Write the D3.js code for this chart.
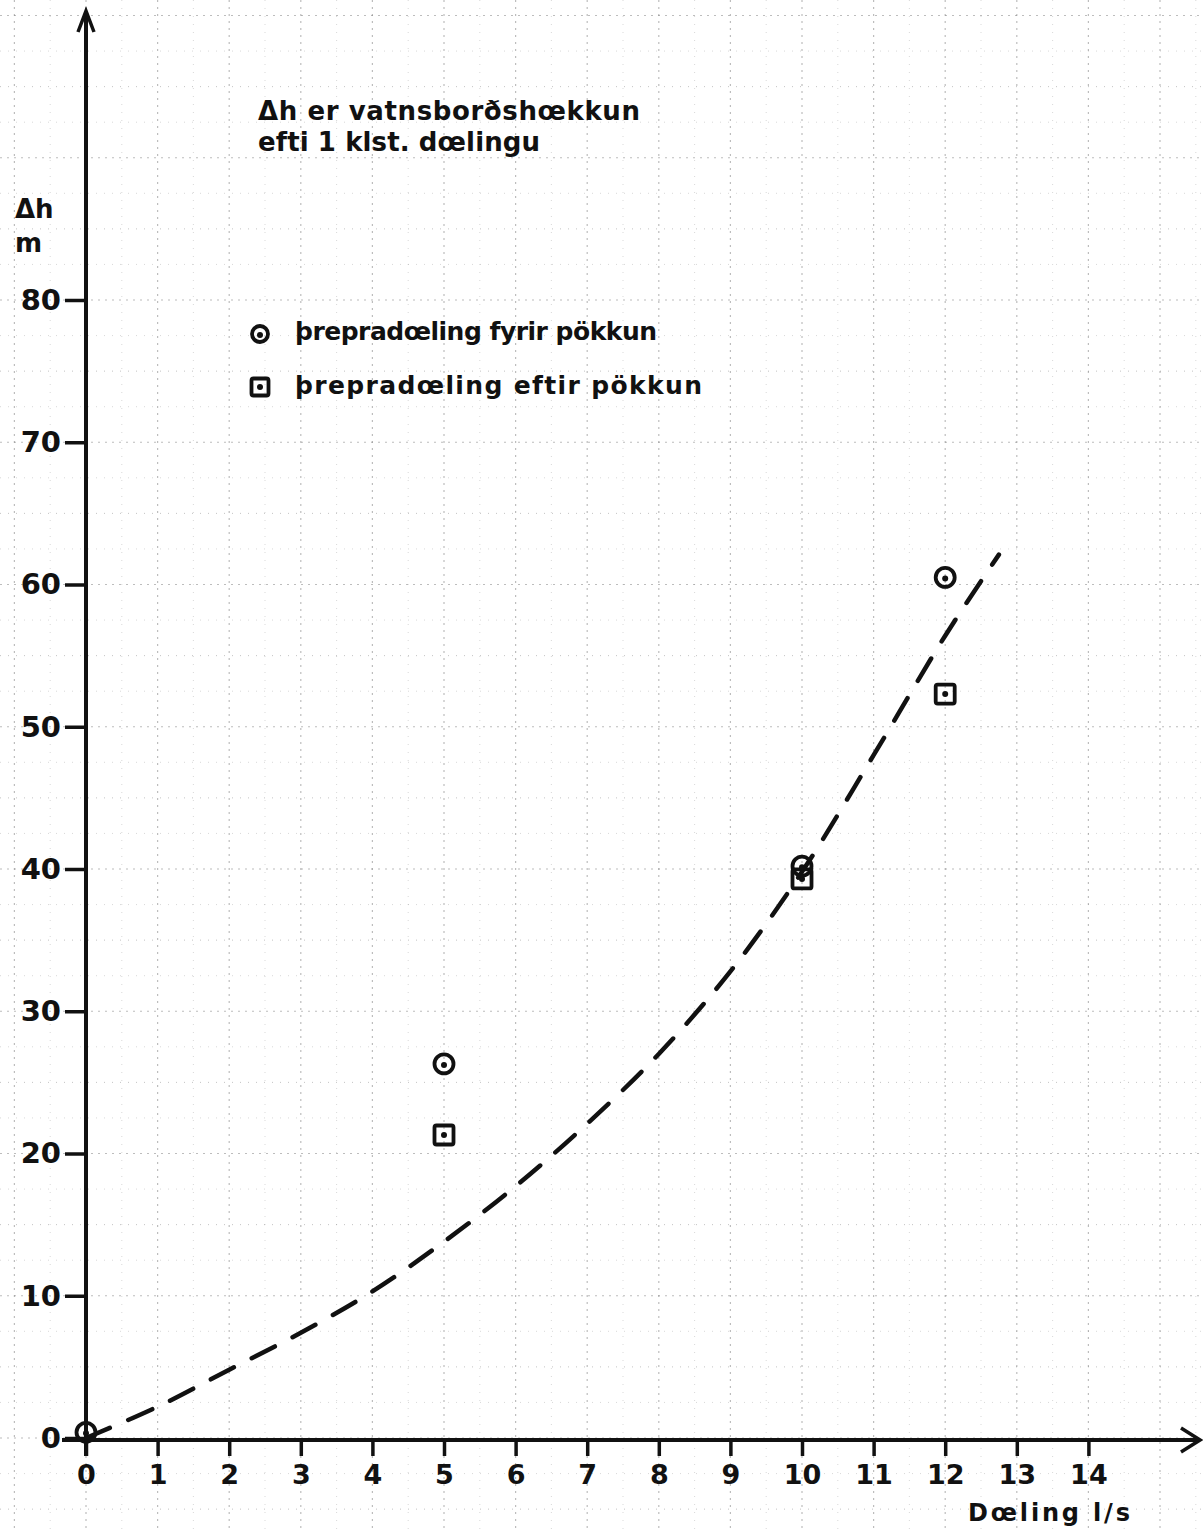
<!DOCTYPE html>
<html>
<head>
<meta charset="utf-8">
<script src="https://cdn.jsdelivr.net/npm/d3@7"></script>
<style>
  body { margin: 0; background: #fff; }
  svg { display: block; }
  text { font-family: "DejaVu Sans", sans-serif; fill: #111; }
</style>
</head>
<body>
<svg id="chart" width="1203" height="1529"></svg>
<script>
// Tick values on both axes
const xTickValues = [0, 1, 2, 3, 4, 5, 6, 7, 8, 9, 10, 11, 12, 13, 14];
const yTickValues = [0, 10, 20, 30, 40, 50, 60, 70, 80];

// Step pumping before packing (circles)
const fyrirQ = [0, 5, 10, 12];
const fyrirDh = [0.4, 26.3, 40.2, 60.5];

// Step pumping after packing (squares)
const eftirQ = [5, 10, 12];
const eftirDh = [21.3, 39.3, 52.3];

// Hand-drawn trend curve (dashed)
const curveQ = [0, 1, 2, 3, 4, 5, 6, 7, 8, 9, 10, 11, 12, 12.75];
const curveDh = [0, 2.2, 4.8, 7.4, 10.3, 13.8, 17.7, 22.1, 27.0, 32.8, 39.8, 48.0, 56.4, 62.1];

// Texts
const titleLines = ["\u0394h er vatnsbor\u00f0sh\u0153kkun", "efti 1 klst. d\u0153lingu"];
const legendLabels = ["\u00fereprad\u0153ling fyrir p\u00f6kkun", "\u00fereprad\u0153ling eftir p\u00f6kkun"];
const yLabelLines = ["\u0394h", "m"];
const xLabel = "D\u0153ling l/s";

const svg = d3.select("#chart");
const ink = "#111";

const x = d3.scaleLinear().domain([0, 15]).range([86, 86 + 15 * 71.6]);
const y = d3.scaleLinear().domain([0, 80]).range([1438, 300]);

// Graph-paper background
const grid = svg.append("g").attr("class", "grid");
grid.selectAll("line.v")
  .data(d3.range(-1, 16.01, 0.5))
  .join("line")
  .attr("x1", d => x(d)).attr("x2", d => x(d))
  .attr("y1", 0).attr("y2", 1529)
  .attr("stroke", "#888")
  .attr("stroke-width", d => Number.isInteger(d) ? 1.2 : 0.9)
  .attr("stroke-dasharray", d => Number.isInteger(d) ? "2,5" : "1,7")
  .attr("opacity", d => Number.isInteger(d) ? 0.55 : 0.35);
grid.selectAll("line.h")
  .data(d3.range(-5, 102.6, 2.5))
  .join("line")
  .attr("y1", d => y(d)).attr("y2", d => y(d))
  .attr("x1", 0).attr("x2", 1203)
  .attr("stroke", "#888")
  .attr("stroke-width", d => d % 10 === 0 ? 1.2 : 0.9)
  .attr("stroke-dasharray", d => d % 10 === 0 ? "2,5" : "1,7")
  .attr("opacity", d => d % 5 === 0 ? 0.55 : 0.35);

// Axes
const yAxis = svg.append("g")
  .attr("transform", `translate(${x(0)},0)`)
  .call(d3.axisLeft(y).tickValues(yTickValues).tickSize(21).tickPadding(4).tickFormat(d3.format("d")));
yAxis.select(".domain").remove();
yAxis.selectAll(".tick line").attr("stroke", ink).attr("stroke-width", 3.5);
yAxis.selectAll(".tick text")
  .attr("fill", ink).style("font-size", "29px").style("font-weight", "bold")
  .style("font-family", "DejaVu Sans, sans-serif");

const xAxis = svg.append("g")
  .attr("transform", `translate(0,${y(0) + 2})`)
  .call(d3.axisBottom(x).tickValues(xTickValues).tickSize(16).tickPadding(9).tickFormat(d3.format("d")));
xAxis.select(".domain").remove();
xAxis.selectAll(".tick line").attr("stroke", ink).attr("stroke-width", 3.5);
xAxis.selectAll(".tick text")
  .attr("fill", ink).style("font-size", "27px").style("font-weight", "bold")
  .style("font-family", "DejaVu Sans, sans-serif");

// Axis lines with arrow heads
svg.append("line")
  .attr("x1", x(0)).attr("x2", x(0)).attr("y1", y(0) + 18).attr("y2", 12)
  .attr("stroke", ink).attr("stroke-width", 4);
svg.append("path")
  .attr("d", `M${x(0) - 8},32 L${x(0)},11 L${x(0) + 8},32`)
  .attr("fill", "none").attr("stroke", ink).attr("stroke-width", 3.5);
svg.append("line")
  .attr("x1", 62).attr("x2", 1199).attr("y1", y(0) + 2).attr("y2", y(0) + 2)
  .attr("stroke", ink).attr("stroke-width", 4);
svg.append("path")
  .attr("d", `M1181,${y(0) - 10} L1200,${y(0) + 2} L1181,${y(0) + 14}`)
  .attr("fill", "none").attr("stroke", ink).attr("stroke-width", 3.5);

// Axis titles
svg.append("g").selectAll("text")
  .data(yLabelLines)
  .join("text")
  .attr("x", 15).attr("y", (d, i) => 218 + i * 34)
  .style("font-size", "26px").style("font-weight", "bold")
  .text(d => d);
svg.append("text")
  .attr("x", 968).attr("y", 1521)
  .style("font-size", "24px").style("font-weight", "bold")
  .attr("textLength", 162)
  .text(xLabel);

// Note text
svg.append("g").selectAll("text")
  .data(titleLines)
  .join("text")
  .attr("x", 258).attr("y", (d, i) => 120 + i * 31)
  .style("font-size", "26px").style("font-weight", "bold")
  .attr("textLength", (d, i) => i === 0 ? 382 : 282)
  .text(d => d);

// Dashed trend curve
const curveData = curveQ.map((q, i) => [q, curveDh[i]]);
svg.append("path")
  .datum(curveData)
  .attr("d", d3.line().x(d => x(d[0])).y(d => y(d[1])).curve(d3.curveCatmullRom.alpha(0.5)))
  .attr("fill", "none").attr("stroke", ink).attr("stroke-width", 4.5)
  .attr("stroke-linecap", "round")
  .attr("stroke-dasharray", "26,20");

// Marker helpers
function drawCircleMarker(g, cx, cy, r) {
  g.append("circle").attr("cx", cx).attr("cy", cy).attr("r", r)
    .attr("fill", "none").attr("stroke", ink).attr("stroke-width", 3.8);
  g.append("circle").attr("cx", cx).attr("cy", cy + 1).attr("r", 3).attr("fill", ink);
}
function drawSquareMarker(g, cx, cy, s) {
  g.append("rect").attr("x", cx - s / 2).attr("y", cy - s / 2).attr("width", s).attr("height", s)
    .attr("rx", 2).attr("fill", "none").attr("stroke", ink).attr("stroke-width", 3.8);
  g.append("circle").attr("cx", cx).attr("cy", cy).attr("r", 3).attr("fill", ink);
}

const pts = svg.append("g");
eftirQ.forEach((q, i) => drawSquareMarker(pts, x(q), y(eftirDh[i]), 19));
fyrirQ.forEach((q, i) => drawCircleMarker(pts, x(q), y(fyrirDh[i]), 9.5));

// Legend
const legend = svg.append("g");
drawCircleMarker(legend, 260, 334, 8);
drawSquareMarker(legend, 260, 387, 17);
legend.selectAll("text")
  .data(legendLabels)
  .join("text")
  .attr("x", 295).attr("y", (d, i) => 340 + i * 54)
  .style("font-size", "25px").style("font-weight", "bold")
  .attr("textLength", (d, i) => i === 0 ? 362 : 407)
  .text(d => d);
</script>
</body>
</html>
